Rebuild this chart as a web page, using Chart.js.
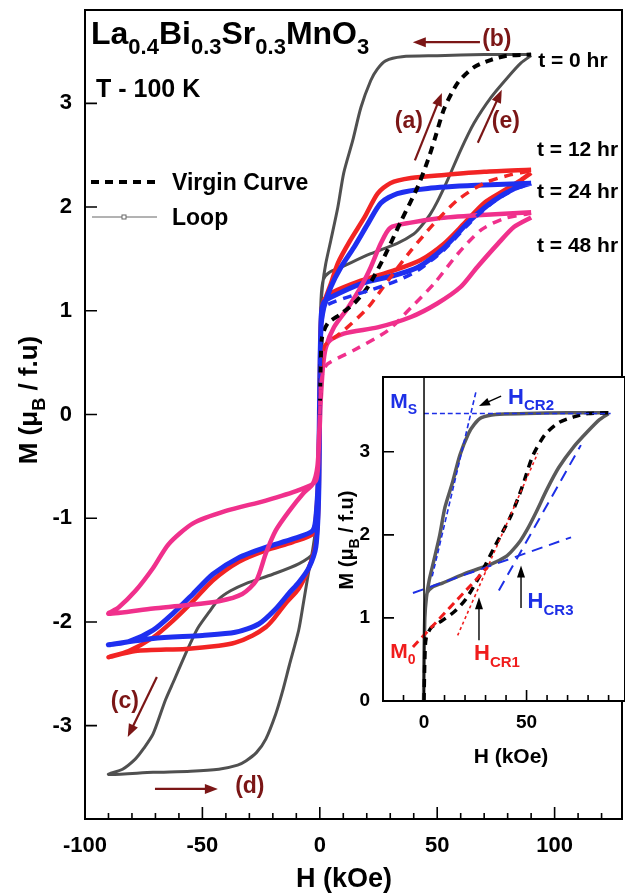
<!DOCTYPE html>
<html>
<head>
<meta charset="utf-8">
<script src="https://cdn.jsdelivr.net/npm/chart.js@4.4.1/dist/chart.umd.min.js"></script>
<style>
  html, body { margin: 0; padding: 0; background: #fff; overflow: hidden; }
  #wrap { position: relative; width: 625px; height: 893px; }
  canvas { position: absolute; left: 0; top: 0; }
</style>
</head>
<body>
<div id="wrap">
  <canvas id="main" width="625" height="893"></canvas>
  <canvas id="inset" width="625" height="893"></canvas>
</div>
<script>
// --- data: [H (kOe), M (muB / f.u)] ---
const t0Down = [[90,3.47],[70,3.47],[50,3.46],[35,3.45],[28,3.41],[24.5,3.33],[21.7,3.22],[17.5,2.96],[14,2.64],[10.2,2.33],[7.7,2.0],[4.7,1.68],[2.5,1.45],[1.2,1.25],[0.4,1.0],[0,0.4],[-0.4,-0.5],[-1,-1.1],[-3,-1.34],[-9,-1.44],[-20,-1.54],[-31.5,-1.63],[-38,-1.7],[-43,-1.78],[-47,-1.9],[-52,-2.06],[-55,-2.2],[-58.4,-2.37],[-62,-2.56],[-65.7,-2.75],[-71,-3.08],[-75,-3.22],[-78.5,-3.32],[-84,-3.42],[-90,-3.47]];
const t0Up = [[-90,-3.47],[-71,-3.45],[-55,-3.44],[-43,-3.42],[-35,-3.38],[-31.5,-3.34],[-27,-3.26],[-23,-3.13],[-18.8,-2.89],[-16,-2.68],[-13,-2.42],[-9,-2.08],[-7,-1.82],[-5,-1.55],[-3,-1.3],[-1.5,-1.05],[-0.5,-0.5],[0,0.5],[0.5,1.1],[1.5,1.3],[4,1.37],[9,1.42],[21.7,1.55],[33,1.65],[40,1.74],[43,1.81],[47,1.93],[50,2.05],[54.6,2.27],[60,2.55],[65.7,2.81],[73,3.06],[80,3.25],[85.7,3.39],[90,3.46]];
const t0Virgin = [[0,0],[0.4,0.5],[1,0.75],[3.4,0.88],[9,0.97],[15,1.08],[20.5,1.23],[27,1.5],[34.5,1.86],[41.8,2.2],[46,2.45],[49,2.66],[53,2.95],[58.8,3.2],[65.7,3.35],[73,3.42],[80,3.46],[90,3.47]];

const t12Down = [[90,2.36],[70,2.34],[53,2.31],[38.8,2.28],[30,2.23],[24.6,2.13],[19,1.9],[13,1.68],[7.7,1.46],[4.7,1.26],[1.7,1.07],[0.5,0.9],[0,0.3],[-0.5,-0.5],[-1.5,-0.95],[-3,-1.15],[-11.5,-1.23],[-23,-1.31],[-34.5,-1.42],[-45.6,-1.6],[-54,-1.8],[-62.6,-1.99],[-71,-2.15],[-81.4,-2.28],[-90,-2.34]];
const t12Up = [[-90,-2.34],[-78.5,-2.28],[-57,-2.26],[-43,-2.23],[-36,-2.2],[-28.6,-2.13],[-23,-2.05],[-20,-1.98],[-14.5,-1.82],[-9,-1.68],[-4.7,-1.48],[-1.7,-1.25],[-0.5,-0.8],[0,0.2],[0.6,0.95],[1.7,1.1],[4.7,1.17],[17.5,1.29],[31.6,1.39],[43,1.49],[53,1.65],[61.4,1.84],[70,2.04],[78.5,2.16],[85.7,2.26],[90,2.33]];
const t12Virgin = [[0,0],[0.5,0.45],[2,0.66],[5,0.72],[10.2,0.81],[20.5,1.03],[29,1.29],[38.8,1.58],[48.6,1.84],[58.8,2.07],[70,2.23],[81,2.31],[90,2.35]];

const t24Down = [[90,2.23],[67,2.21],[46,2.18],[33,2.13],[26,2.04],[20.5,1.84],[14.5,1.61],[9,1.42],[4.7,1.23],[1.7,1.03],[0.5,0.85],[0,0.3],[-0.5,-0.5],[-1.5,-0.95],[-3,-1.12],[-11.5,-1.2],[-23,-1.28],[-34.5,-1.38],[-45.6,-1.54],[-54,-1.73],[-62.6,-1.92],[-71,-2.08],[-81.4,-2.19],[-90,-2.22]];
const t24Up = [[-90,-2.22],[-71,-2.16],[-50,-2.13],[-36,-2.1],[-26,-2.02],[-19,-1.88],[-13,-1.72],[-9,-1.62],[-4.7,-1.48],[-1.7,-1.28],[-0.5,-0.8],[0,0.2],[0.6,0.95],[1.7,1.08],[4.7,1.13],[17.5,1.26],[31.6,1.34],[41.8,1.42],[53,1.61],[64,1.87],[74,2.06],[84,2.19],[90,2.23]];
const t24Virgin = [[0,0],[0.5,0.7],[1.5,1.0],[3.4,1.06],[10.2,1.12],[21.7,1.2],[33,1.29],[41.8,1.39],[53,1.59],[64,1.85],[74,2.05],[84,2.18],[90,2.22]];

const t48Down = [[90,1.95],[67,1.92],[50,1.89],[38.8,1.85],[30,1.8],[26,1.65],[21.7,1.42],[17.5,1.23],[12,1.03],[6,0.84],[2.6,0.65],[1.3,0.45],[0.3,0.1],[-0.5,-0.3],[-1.7,-0.64],[-9,-0.73],[-23,-0.83],[-40,-0.93],[-54,-1.05],[-64.4,-1.25],[-71,-1.48],[-78.5,-1.7],[-85.7,-1.86],[-90,-1.92]];
const t48Up = [[-90,-1.92],[-71,-1.87],[-57,-1.84],[-43,-1.8],[-33,-1.73],[-27,-1.6],[-23,-1.34],[-18.8,-1.12],[-13,-0.93],[-7,-0.76],[-3,-0.67],[-1,-0.5],[0,-0.1],[0.8,0.4],[3.4,0.69],[10.2,0.78],[24.6,0.84],[38.8,0.94],[50,1.07],[60,1.23],[67,1.42],[76,1.65],[82.8,1.81],[90,1.9]];
const t48Virgin = [[0,0],[0.5,0.3],[1.5,0.42],[3.4,0.49],[14.5,0.62],[29,0.81],[38.8,1.03],[48.6,1.26],[58.8,1.55],[68.7,1.78],[78.5,1.89],[90,1.94]];

// inset: linear fits drawn on the t = 0 hr data
const fitMs = [[0,3.46],[91,3.46]];
const fitHcr2 = [[4,1.5],[25.4,3.73]];
const fitLow = [[-5.4,1.3],[71.7,1.97]];
const fitHcr3 = [[36.5,1.33],[76.5,3.08]];
const fitM0 = [[-5.4,0.65],[31,1.61]];
const fitHcr1 = [[16.4,0.79],[55.4,2.98]];

const hTicks = [-100, -50, 0, 50, 100];
const mTicks = [-3, -2, -1, 0, 1, 2, 3];
const insetHTicks = [0, 50];
const insetMTicks = [0, 1, 2, 3];

const FONT = "'Liberation Sans', Arial, sans-serif";
const DARKRED = '#7b1616';

function pts(arr) { return arr.map(p => ({ x: p[0], y: p[1] })); }
function loopSet(down, up, color, width, order) {
  return { data: pts(down.concat(up.slice(1))), showLine: true, borderColor: color, borderWidth: width,
           pointRadius: 0, tension: 0.25, order: order };
}
function dashSet(arr, color, width, dash, order) {
  return { data: pts(arr), showLine: true, borderColor: color, borderWidth: width, borderDash: dash,
           pointRadius: 0, tension: 0.25, order: order };
}

// text with subscripts: parts = [[text, isSub], ...]
function rich(ctx, parts, x, y, size, color, align) {
  const sub = Math.round(size * 0.68);
  let w = 0;
  parts.forEach(p => { ctx.font = 'bold ' + (p[1] ? sub : size) + 'px ' + FONT; w += ctx.measureText(p[0]).width; });
  let cx = align === 'center' ? x - w / 2 : (align === 'right' ? x - w : x);
  ctx.fillStyle = color; ctx.textAlign = 'left'; ctx.textBaseline = 'alphabetic';
  parts.forEach(p => {
    ctx.font = 'bold ' + (p[1] ? sub : size) + 'px ' + FONT;
    ctx.fillText(p[0], cx, p[1] ? y + size * 0.3 : y);
    cx += ctx.measureText(p[0]).width;
  });
}
function arrow(ctx, x1, y1, x2, y2, color, lw, hl, hw) {
  const a = Math.atan2(y2 - y1, x2 - x1), c = Math.cos(a), s = Math.sin(a);
  ctx.strokeStyle = color; ctx.lineWidth = lw; ctx.setLineDash([]);
  ctx.beginPath(); ctx.moveTo(x1, y1); ctx.lineTo(x2 - c * hl * 0.8, y2 - s * hl * 0.8); ctx.stroke();
  ctx.fillStyle = color; ctx.beginPath();
  ctx.moveTo(x2, y2);
  ctx.lineTo(x2 - hl * c + hw * s, y2 - hl * s - hw * c);
  ctx.lineTo(x2 - hl * c - hw * s, y2 - hl * s + hw * c);
  ctx.closePath(); ctx.fill();
}
function frameAndTicks(ctx, a, X, Y, xMajor, xMinor, yMajor, majLen, minLen) {
  ctx.strokeStyle = '#000'; ctx.lineWidth = 2; ctx.setLineDash([]);
  ctx.strokeRect(a.left, a.top, a.right - a.left, a.bottom - a.top);
  ctx.lineWidth = 1.6;
  ctx.beginPath();
  xMinor.forEach(v => { ctx.moveTo(X(v), a.bottom); ctx.lineTo(X(v), a.bottom - minLen); });
  xMajor.forEach(v => { ctx.moveTo(X(v), a.bottom); ctx.lineTo(X(v), a.bottom - majLen); });
  yMajor.forEach(v => { ctx.moveTo(a.left, Y(v)); ctx.lineTo(a.left + majLen, Y(v)); });
  ctx.stroke();
}

const mainDecor = {
  id: 'mainDecor',
  afterDraw(chart) {
    const { ctx, chartArea: a, scales: { x, y } } = chart;
    const X = v => x.getPixelForValue(v), Y = v => y.getPixelForValue(v);
    ctx.save();
    const minor = [];
    for (let v = -90; v <= 120; v += 10) if (v % 50 !== 0) minor.push(v);
    frameAndTicks(ctx, a, X, Y, hTicks, minor, mTicks, 12, 6);

    // axis titles
    rich(ctx, [['H (kOe)', 0]], 344, 887, 27, '#000', 'center');
    ctx.save(); ctx.translate(37, 400); ctx.rotate(-Math.PI / 2);
    rich(ctx, [['M (\u03bc', 0], ['B', 1], [' / f.u)', 0]], 0, 0, 26, '#000', 'center');
    ctx.restore();

    // title
    rich(ctx, [['La', 0], ['0.4', 1], ['Bi', 0], ['0.3', 1], ['Sr', 0], ['0.3', 1], ['MnO', 0], ['3', 1]], 91, 44, 32, '#000', 'left');
    rich(ctx, [['T - 100 K', 0]], 96, 97, 25, '#000', 'left');

    // legend
    ctx.strokeStyle = '#000'; ctx.lineWidth = 4; ctx.setLineDash([8, 6]);
    ctx.beginPath(); ctx.moveTo(91, 182); ctx.lineTo(155, 182); ctx.stroke();
    ctx.setLineDash([]); ctx.strokeStyle = '#666'; ctx.lineWidth = 1;
    ctx.beginPath(); ctx.moveTo(92, 217); ctx.lineTo(157, 217); ctx.stroke();
    ctx.fillStyle = '#fff'; ctx.fillRect(122, 215, 4, 4); ctx.strokeRect(122, 215, 4, 4);
    rich(ctx, [['Virgin Curve', 0]], 172, 190, 23, '#000', 'left');
    rich(ctx, [['Loop', 0]], 172, 225, 23, '#000', 'left');

    // sample labels
    rich(ctx, [['t = 0 hr', 0]], X(93), Y(3.43) + 8, 21, '#000', 'left');
    rich(ctx, [['t = 12 hr', 0]], X(92.5), Y(2.57) + 8, 21, '#000', 'left');
    rich(ctx, [['t = 24 hr', 0]], X(92.5), Y(2.16) + 8, 21, '#000', 'left');
    rich(ctx, [['t = 48 hr', 0]], X(92.5), Y(1.64) + 8, 21, '#000', 'left');

    // field-sweep arrows
    arrow(ctx, X(68.2), Y(3.59), X(39.6), Y(3.59), DARKRED, 2.2, 13, 5);
    arrow(ctx, X(40.5), Y(2.45), X(52), Y(3.1), DARKRED, 2.2, 13, 5);
    arrow(ctx, X(67.3), Y(2.62), X(77.5), Y(3.13), DARKRED, 2.2, 13, 5);
    arrow(ctx, X(-69.4), Y(-2.53), X(-81.8), Y(-3.11), DARKRED, 2.2, 13, 5);
    arrow(ctx, X(-70.2), Y(-3.61), X(-43.4), Y(-3.61), DARKRED, 2.2, 13, 5);
    rich(ctx, [['(b)', 0]], X(75.4), Y(3.63) + 8, 23, DARKRED, 'center');
    rich(ctx, [['(a)', 0]], X(37.9), Y(2.84) + 8, 23, DARKRED, 'center');
    rich(ctx, [['(e)', 0]], X(79.2), Y(2.84) + 8, 23, DARKRED, 'center');
    rich(ctx, [['(c)', 0]], X(-83), Y(-2.75) + 8, 23, DARKRED, 'center');
    rich(ctx, [['(d)', 0]], X(-29.8), Y(-3.57) + 8, 23, DARKRED, 'center');
    ctx.restore();
  }
};

const insetDecor = {
  id: 'insetDecor',
  beforeDatasetsDraw(chart) {
    const { ctx, chartArea: a } = chart;
    ctx.save(); ctx.fillStyle = '#fff';
    ctx.fillRect(a.left, a.top, a.right - a.left, a.bottom - a.top);
    ctx.restore();
  },
  afterDraw(chart) {
    const { ctx, chartArea: a, scales: { x, y } } = chart;
    const X = v => x.getPixelForValue(v), Y = v => y.getPixelForValue(v);
    ctx.save();
    // zero-field line
    ctx.strokeStyle = '#000'; ctx.lineWidth = 1.5;
    ctx.beginPath(); ctx.moveTo(X(0), a.top); ctx.lineTo(X(0), a.bottom); ctx.stroke();
    const minor = [];
    for (let v = -10; v <= 90; v += 10) if (v % 50 !== 0) minor.push(v);
    frameAndTicks(ctx, a, X, Y, insetHTicks, minor, [1, 2, 3], 11, 6);

    rich(ctx, [['H (kOe)', 0]], 511, 763, 21, '#000', 'center');
    ctx.save(); ctx.translate(353, 540); ctx.rotate(-Math.PI / 2);
    rich(ctx, [['M (\u03bc', 0], ['B', 1], [' / f.u)', 0]], 0, 0, 20, '#000', 'center');
    ctx.restore();

    const BLUE = '#1d2fe6', RED = '#f01c1c';
    rich(ctx, [['M', 0], ['S', 1]], X(-16.5), Y(3.53), 21, BLUE, 'left');
    rich(ctx, [['H', 0], ['CR2', 1]], X(41), Y(3.58), 22, BLUE, 'left');
    rich(ctx, [['H', 0], ['CR3', 1]], X(50.5), Y(1.12), 22, BLUE, 'left');
    rich(ctx, [['M', 0], ['0', 1]], X(-16.5), Y(0.52), 21, RED, 'left');
    rich(ctx, [['H', 0], ['CR1', 1]], X(24.4), Y(0.49), 22, RED, 'left');
    arrow(ctx, X(37.6), Y(3.67), X(26.8), Y(3.55), '#000', 1.4, 11, 4);
    arrow(ctx, X(47.3), Y(1.12), X(47.3), Y(1.63), '#000', 1.4, 12, 4);
    arrow(ctx, X(26.8), Y(0.73), X(26.8), Y(1.25), '#000', 1.4, 12, 4);
    ctx.restore();
  }
};

function axisCfg(min, max, tickList, fit, fontSize, pad) {
  return {
    type: 'linear', min: min, max: max,
    grid: { display: false, drawTicks: false }, border: { display: false },
    afterBuildTicks: s => { s.ticks = tickList.map(v => ({ value: v })); },
    afterFit: s => { fit(s); s.paddingTop = 0; s.paddingBottom = 0; s.paddingLeft = 0; s.paddingRight = 0; },
    ticks: { color: '#000', font: { family: FONT, size: fontSize, weight: 'bold' }, padding: pad,
             maxRotation: 0, autoSkip: false, callback: v => String(v) }
  };
}

new Chart(document.getElementById('main'), {
  type: 'scatter',
  data: {
    datasets: [
      loopSet(t0Down, t0Up, '#505050', 3, 10),
      loopSet(t12Down, t12Up, '#f22424', 4.5, 9),
      loopSet(t24Down, t24Up, '#1f2ff0', 5, 8),
      loopSet(t48Down, t48Up, '#f0308c', 4.5, 7),
      dashSet(t0Virgin, '#000', 4, [8, 6], 4),
      dashSet(t12Virgin, '#f22424', 3.5, [9, 7], 3),
      dashSet(t24Virgin, '#1f2ff0', 3.5, [9, 7], 2),
      dashSet(t48Virgin, '#f0308c', 3.5, [9, 7], 1)
    ]
  },
  options: {
    responsive: false, animation: false, devicePixelRatio: 1,
    layout: { padding: { top: 10, left: 0, right: 3, bottom: 0 } },
    plugins: { legend: { display: false }, tooltip: { enabled: false } },
    scales: {
      x: axisCfg(-100, 128.7, hTicks, s => { s.height = 74; }, 22, 14),
      y: axisCfg(-3.9, 3.9, mTicks, s => { s.width = 85; }, 22, 13)
    }
  },
  plugins: [mainDecor]
});

new Chart(document.getElementById('inset'), {
  type: 'scatter',
  data: {
    datasets: [
      loopSet(t0Down, t0Up, '#5a5a5a', 3.5, 10),
      dashSet(t0Virgin, '#000', 3.5, [8, 6], 8),
      dashSet(fitMs, '#1d2fe6', 1.6, [5, 3], 5),
      dashSet(fitHcr2, '#1d2fe6', 1.6, [5, 3], 5),
      dashSet(fitLow, '#1d2fe6', 2, [11, 7], 5),
      dashSet(fitHcr3, '#1d2fe6', 2, [11, 7], 5),
      dashSet(fitM0, '#f01c1c', 3, [8, 5], 4),
      dashSet(fitHcr1, '#f01c1c', 1.6, [3, 3], 4)
    ]
  },
  options: {
    responsive: false, animation: false, devicePixelRatio: 1,
    layout: { padding: { top: 377, left: 0, right: 0, bottom: 0 } },
    plugins: { legend: { display: false }, tooltip: { enabled: false } },
    scales: {
      x: axisCfg(-20, 98, insetHTicks, s => { s.height = 192; }, 19, 10),
      y: axisCfg(0, 3.9, insetMTicks, s => { s.width = 383; }, 19, 13)
    }
  },
  plugins: [insetDecor]
});
</script>
</body>
</html>
